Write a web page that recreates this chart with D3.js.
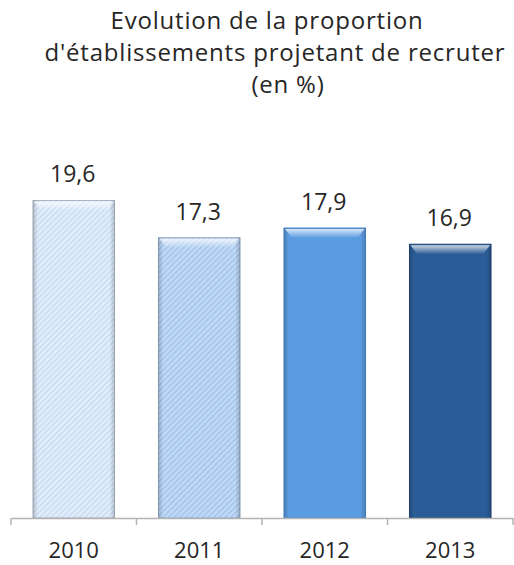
<!DOCTYPE html>
<html>
<head>
<meta charset="utf-8">
<script src="https://cdn.jsdelivr.net/npm/d3@7"></script>
<style>
	body { margin: 0; background: #fff; }
	svg { display: block; }
	text { font-family: "Open Sans", "Noto Sans", sans-serif; fill: #262626; }
</style>
</head>
<body>
<svg id="chart" width="514" height="565"></svg>
<script>
// data
var years = ['2010', '2011', '2012', '2013'];
var values = [19.6, 17.3, 17.9, 16.9];
var titleLines = ['Evolution de la proportion', "d'établissements projetant de recruter", '(en %)'];

// bar looks, one per year
var fills = ['url(#hatch0)', 'url(#hatch1)', '#5b9be1', '#2b5c98'];
var edges = ['#a9b4c0', '#8fa6c0', '#4a85c8', '#1f4676'];

var svg = d3.select('#chart');
var width = 514, height = 565;
var margin = {top: 0, right: 1, bottom: 47, left: 11};

var defs = svg.append('defs');

function hatch(id, bg, line) {
	var p = defs.append('pattern')
		.attr('id', id)
		.attr('patternUnits', 'userSpaceOnUse')
		.attr('width', 4).attr('height', 4)
		.attr('patternTransform', 'rotate(45)');
	p.append('rect').attr('width', 4).attr('height', 4).attr('fill', bg);
	p.append('rect').attr('width', 1.6).attr('height', 4).attr('fill', line);
}
hatch('hatch0', '#e3eefb', '#c9dbf3');
hatch('hatch1', '#c2daf6', '#a3c4ec');

// bevel shading
var gTop = defs.append('linearGradient').attr('id', 'bevTop').attr('x1', 0).attr('y1', 0).attr('x2', 0).attr('y2', 1);
gTop.append('stop').attr('offset', 0).attr('stop-color', '#fff').attr('stop-opacity', 0.75);
gTop.append('stop').attr('offset', 1).attr('stop-color', '#fff').attr('stop-opacity', 0);
var gSide = defs.append('linearGradient').attr('id', 'bevSide').attr('x1', 0).attr('y1', 0).attr('x2', 1).attr('y2', 0);
gSide.append('stop').attr('offset', 0).attr('stop-color', '#000').attr('stop-opacity', 0.18);
gSide.append('stop').attr('offset', 0.06).attr('stop-color', '#000').attr('stop-opacity', 0);
gSide.append('stop').attr('offset', 0.94).attr('stop-color', '#000').attr('stop-opacity', 0);
gSide.append('stop').attr('offset', 1).attr('stop-color', '#000').attr('stop-opacity', 0.18);

var x = d3.scaleBand()
	.domain(years)
	.range([margin.left, width - margin.right])
	.paddingInner(0.35)
	.paddingOuter(0.175);

var y = d3.scaleLinear()
	.domain([0, 20])
	.range([height - margin.bottom, 194]);

var base = y(0);

var bar = svg.selectAll('.bar')
	.data(values).enter().append('g')
	.attr('class', 'bar')
	.attr('transform', function(d, i) { return 'translate(' + x(years[i]) + ',' + y(d) + ')'; });

var bw = x.bandwidth();

bar.append('rect')
	.attr('width', bw)
	.attr('height', function(d) { return base - y(d); })
	.attr('fill', function(d, i) { return fills[i]; })
	.attr('stroke', function(d, i) { return edges[i]; })
	.attr('stroke-width', 1);

bar.append('rect')
	.attr('width', bw)
	.attr('height', function(d) { return base - y(d); })
	.attr('fill', 'url(#bevSide)');

bar.append('path')
	.attr('d', 'M1,1 L' + (bw - 1) + ',1 L' + (bw - 8) + ',10 L8,10 Z')
	.attr('fill', 'url(#bevTop)');

bar.append('text')
	.attr('x', bw / 2 - 1)
	.attr('y', -18)
	.attr('text-anchor', 'middle')
	.style('font-size', '23px')
	.text(function(d) { return d3.format('.1f')(d).replace('.', ','); });

// axis
var axis = svg.append('g')
	.attr('transform', 'translate(0,' + base + ')')
	.call(d3.axisBottom(x).tickSize(0).tickPadding(24));
axis.select('.domain').attr('stroke', '#b3b3b3').attr('stroke-width', 1.5);
axis.selectAll('.tick text').style('font-size', '22px').attr('fill', '#262626').style('font-family', '"Open Sans", sans-serif');

// tick marks between categories
var step = x.step();
var edgesX = years.map(function(c) { return x(c) - x.paddingInner() * step / 2; });
edgesX.push(width - margin.right);
svg.selectAll('.sep')
	.data(edgesX).enter().append('line')
	.attr('class', 'sep')
	.attr('x1', function(d) { return d; }).attr('x2', function(d) { return d; })
	.attr('y1', base).attr('y2', base + 7)
	.attr('stroke', '#b3b3b3').attr('stroke-width', 1.5);

// title, each line centred a little differently as in the original
var titleX = [267, 275, 288];
svg.append('g').selectAll('text')
	.data(titleLines).enter().append('text')
	.attr('x', function(d, i) { return titleX[i]; })
	.attr('y', function(d, i) { return 29 + i * 32; })
	.attr('text-anchor', 'middle')
	.style('font-size', '24px')
	.style('letter-spacing', '0.8px')
	.text(function(d) { return d; });
</script>
</body>
</html>
